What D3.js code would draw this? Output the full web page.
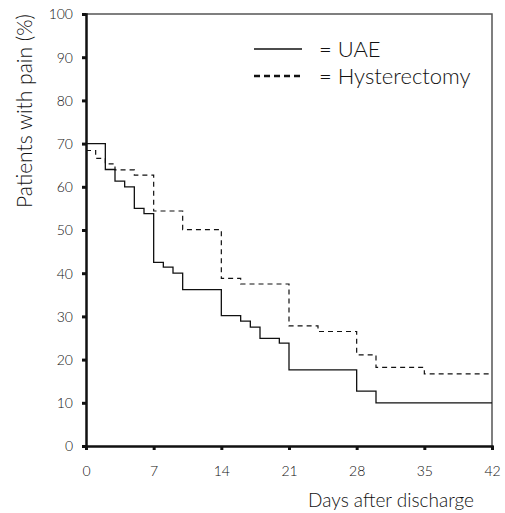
<!DOCTYPE html>
<html>
<head>
<meta charset="utf-8">
<script src="https://cdn.jsdelivr.net/npm/d3@7"></script>
<style>
  body { margin: 0; background: #fff; }
  svg text { font-family: "Lato", "Open Sans", sans-serif; font-weight: 300; fill: #111; }
</style>
</head>
<body>
<div id="chart"></div>
<script>
// Kaplan-Meier style steps: [day, percent]
const uaeSteps = [[0,70],[2,64],[3,61.3],[4,60],[5,55],[6,53.8],[7,42.5],[8,41.4],[9,40],[10,36.2],
  [14,30.2],[16,28.9],[17,27.5],[18,24.9],[20,23.8],[21,17.6],[28,12.7],[30,10],[42,10]];
const hystSteps = [[0,68.4],[1,66.6],[2,65.3],[3,63.9],[5,62.7],[7,54.4],[10,50.1],[14,38.8],[16,37.5],
  [21,27.8],[24,26.5],[28,21.1],[30,18.2],[35,16.7],[42,16.7]];
const xTicks = [0, 7, 14, 21, 28, 35, 42];
const yTicks = [0, 10, 20, 30, 40, 50, 60, 70, 80, 90, 100];

const width = 505, height = 513;
const margin = { top: 14, right: 13, bottom: 67, left: 86 };

const svg = d3.select('#chart').append('svg')
    .attr('width', width)
    .attr('height', height);

const x = d3.scaleLinear().domain([0, 42]).range([margin.left, width - margin.right]);
const y = d3.scaleLinear().domain([0, 100]).range([height - margin.bottom, margin.top]);

// top and right frame (thin gray)
svg.append('path')
    .attr('d', `M${x(0)},${y(100)}H${x(42)}V${y(0)}`)
    .attr('fill', 'none')
    .attr('stroke', '#555')
    .attr('stroke-width', 1.5);

// step lines
const line = d3.line()
    .x(d => x(d[0]))
    .y(d => y(d[1]))
    .curve(d3.curveStepAfter);

svg.append('path')
    .datum(uaeSteps)
    .attr('d', line)
    .attr('fill', 'none')
    .attr('stroke', '#111')
    .attr('stroke-width', 1.3);

svg.append('path')
    .datum(hystSteps)
    .attr('d', line)
    .attr('fill', 'none')
    .attr('stroke', '#111')
    .attr('stroke-width', 1.2)
    .attr('stroke-dasharray', '5,4');

// left axis
const yAxis = svg.append('g')
    .attr('transform', `translate(${x(0)},0)`)
    .call(d3.axisLeft(y).tickValues(yTicks).tickSize(4).tickPadding(9));
yAxis.select('.domain').attr('stroke', '#111').attr('stroke-width', 2.5);
yAxis.selectAll('.tick line').attr('stroke', '#111').attr('stroke-width', 3);
yAxis.selectAll('.tick text')
    .style('font-size', '14px')
    .attr('dy', '0.35em');

// bottom axis
const xAxis = svg.append('g')
    .attr('transform', `translate(0,${y(0)})`)
    .call(d3.axisBottom(x).tickValues(xTicks).tickSize(4).tickPadding(16));
xAxis.select('.domain').attr('stroke', '#111').attr('stroke-width', 2.5);
xAxis.selectAll('.tick line').attr('stroke', '#111').attr('stroke-width', 3);
xAxis.selectAll('.tick text').style('font-size', '14px');

// axis titles
svg.append('text')
    .attr('transform', `translate(32,111) rotate(-90)`)
    .attr('text-anchor', 'middle')
    .style('font-size', '21px')
    .text('Patients with pain (%)');

svg.append('text')
    .attr('x', 474)
    .attr('y', 507)
    .attr('text-anchor', 'end')
    .style('font-size', '19px')
    .text('Days after discharge');

// legend
const legend = [
  { label: 'UAE', dash: null, y: 49, w: 1.5 },
  { label: 'Hysterectomy', dash: '6,4', y: 76, w: 2.5 }
];
const lg = svg.append('g');
legend.forEach(d => {
  lg.append('line')
    .attr('x1', 254).attr('x2', 302)
    .attr('y1', d.y).attr('y2', d.y)
    .attr('stroke', '#111')
    .attr('stroke-width', d.w)
    .attr('stroke-dasharray', d.dash);
  lg.append('text')
    .attr('x', 319).attr('y', d.y)
    .attr('dy', '0.35em')
    .style('font-size', '22px')
    .text('= ' + d.label);
});
</script>
</body>
</html>
